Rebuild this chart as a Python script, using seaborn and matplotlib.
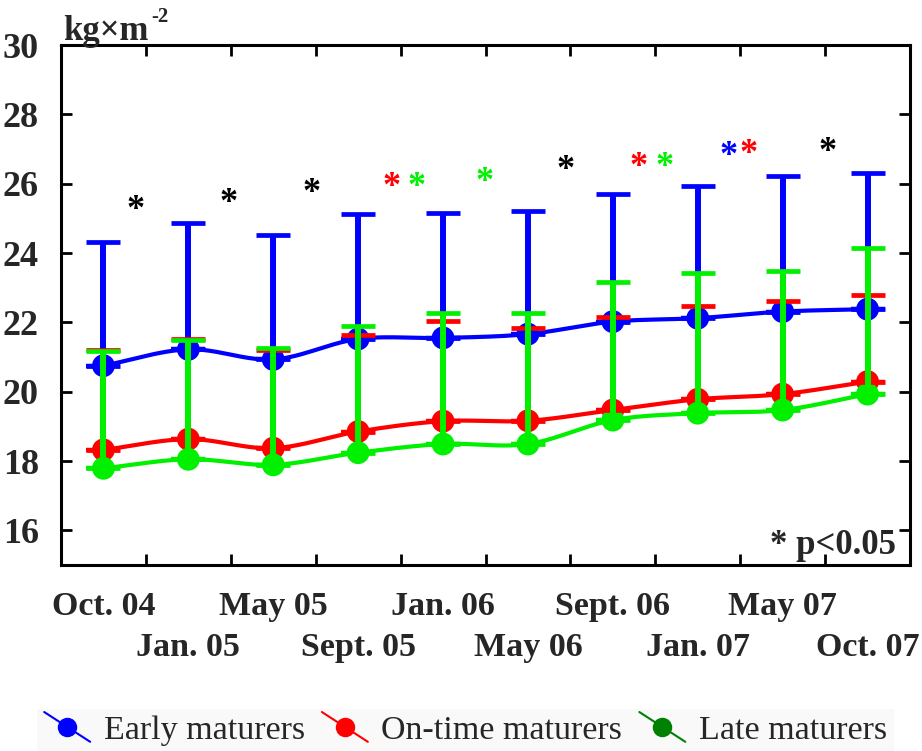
import numpy as np
import pandas as pd
import matplotlib
matplotlib.use("Agg")
import matplotlib.pyplot as plt
import seaborn as sns
from matplotlib.lines import Line2D
from matplotlib.legend_handler import HandlerBase

# ---------------- data ----------------
months = ["Oct. 04", "Jan. 05", "May 05", "Sept. 05", "Jan. 06",
          "May 06", "Sept. 06", "Jan. 07", "May 07", "Oct. 07"]
early_mean = [20.75, 21.22, 20.93, 21.52, 21.55, 21.66, 22.02, 22.12, 22.31, 22.38]
early_upper = [24.33, 24.86, 24.52, 25.13, 25.16, 25.22, 25.69, 25.93, 26.22, 26.30]
ontime_mean = [18.32, 18.63, 18.37, 18.85, 19.15, 19.16, 19.47, 19.78, 19.93, 20.29]
ontime_upper = [21.20, 21.52, 21.20, 21.64, 22.05, 21.83, 22.16, 22.47, 22.62, 22.79]
late_mean = [17.79, 18.05, 17.89, 18.24, 18.49, 18.49, 19.18, 19.38, 19.47, 19.93]
late_upper = [21.18, 21.49, 21.27, 21.89, 22.26, 22.28, 23.17, 23.41, 23.49, 24.14]
series_names = ["Early maturers", "On-time maturers", "Late maturers"]
y_ticks = [16, 18, 20, 22, 24, 26, 28, 30]
unit_label = "kg×m"
unit_sup = "-2"
sig_note = "* p<0.05"

# significance asterisks (between visits): x in category units, y in kg/m2
star_x = [0.38, 1.47, 2.45, 3.39, 3.69, 4.49, 5.44, 6.30, 6.61, 7.36, 7.60, 8.53]
star_y = [25.24, 25.44, 25.73, 25.90, 25.90, 26.02, 26.37, 26.48, 26.48, 26.77, 26.83, 26.91]
star_c = ["k", "k", "k", "r", "g", "g", "k", "r", "g", "b", "r", "k"]

# ---------------- style ----------------
sns.set_theme(style="white")
plt.rcParams["font.family"] = ["Liberation Serif", "DejaVu Serif"]
BLUE, RED, GREEN = "#0000ff", "#ff0000", "#00f000"
LEG_GREEN = "#008000"
cmap = {"k": "black", "r": RED, "g": GREEN, "b": BLUE}

fig = plt.figure(figsize=(9.22, 7.51), dpi=100)
ax = fig.add_axes([61 / 922, 1 - 565 / 751, 849 / 922, 520 / 751])

pos = np.arange(len(months))


def smooth(x, y, n=24):
    P = np.column_stack([x, y]).astype(float)
    P = np.vstack([2 * P[0] - P[1], P, 2 * P[-1] - P[-2]])
    out = []
    t = np.linspace(0, 1, n, endpoint=False)[:, None]
    for i in range(1, len(P) - 2):
        p0, p1, p2, p3 = P[i - 1], P[i], P[i + 1], P[i + 2]
        seg = 0.5 * ((2 * p1) + (-p0 + p2) * t + (2 * p0 - 5 * p1 + 4 * p2 - p3) * t ** 2
                     + (-p0 + 3 * p1 - 3 * p2 + p3) * t ** 3)
        out.append(seg)
    out.append(P[-2][None, :])
    return np.vstack(out)


groups = [(early_mean, early_upper, BLUE),
          (ontime_mean, ontime_upper, RED),
          (late_mean, late_upper, GREEN)]

for k, (m, up, c) in enumerate(groups):
    curve = smooth(pos, m)
    df = pd.DataFrame({"x": curve[:, 0], "y": curve[:, 1]})
    sns.lineplot(data=df, x="x", y="y", sort=False, estimator=None, color=c,
                 linewidth=3.0, ax=ax, zorder=2 + k)
    ax.plot(pos, m, linestyle="none", marker="_", markersize=24, mew=3.2,
            color=c, zorder=2 + k)
    sns.scatterplot(x=pos, y=m, s=270, color=c, edgecolor="none", ax=ax,
                    zorder=3 + k)

for k, (m, up, c) in enumerate(groups):
    m = np.asarray(m)
    up = np.asarray(up)
    ax.errorbar(pos, m, yerr=[np.zeros_like(m), up - m], fmt="none", ecolor=c,
                elinewidth=4.3, capsize=12, capthick=3.4, zorder=6 + k)

for x, y, c in zip(star_x, star_y, star_c):
    ax.text(x, y, "*", color=cmap[c], fontsize=26, fontweight="bold",
            ha="center", va="center", zorder=10)

ax.set_xlim(-0.5, len(months) - 0.5)
ax.set_ylim(15, 30)
ax.set_xlabel("")
ax.set_ylabel("")

ax.set_yticks(y_ticks)
ax.set_yticklabels([str(v) for v in y_ticks], fontsize=26, fontweight="bold")
ax.set_xticks(pos)
ax.set_xticklabels(months, fontsize=24.5, fontweight="bold")
ax.set_xticks(np.arange(len(months) + 1) - 0.5, minor=True)

ax.tick_params(axis="x", which="major", length=0, pad=19)
ax.tick_params(axis="x", which="minor", direction="in", length=8, width=2,
               top=True, bottom=True, color="black")
ax.tick_params(axis="y", which="major", direction="in", length=8, width=2,
               left=True, right=True, pad=16, color="black")
for i, tk in enumerate(ax.xaxis.get_major_ticks()):
    tk.set_pad(19 if i % 2 == 0 else 48)

for s in ax.spines.values():
    s.set_color("black")
    s.set_linewidth(2.2)

# unit label with superscript
ut = fig.text(63 / 922, 1 - 40 / 751, unit_label, fontsize=25, fontweight="bold",
              ha="left", va="baseline")
fig.text(151 / 922, 1 - 22 / 751, unit_sup, fontsize=15, fontweight="bold",
         ha="left", va="baseline")

# significance note
ax.text(0.983, 0.005, sig_note, transform=ax.transAxes, fontsize=25,
        fontweight="bold", ha="right", va="bottom")


class DiagHandler(HandlerBase):
    def create_artists(self, legend, orig_handle, xdescent, ydescent, width,
                       height, fontsize, trans):
        c = orig_handle.get_color()
        x0, x1 = -xdescent, width - xdescent
        y0, y1 = height * 1.15 - ydescent, -height * 0.1 - ydescent
        ln = Line2D([x0, x1], [y0, y1], color=c, linewidth=1.5, transform=trans)
        mk = Line2D([(x0 + x1) / 2], [(y0 + y1) / 2], marker="o", markersize=13,
                    color=c, linestyle="none", transform=trans)
        return [ln, mk]


handles = [Line2D([], [], color=BLUE), Line2D([], [], color=RED),
           Line2D([], [], color=LEG_GREEN)]
leg = fig.legend(handles, series_names, loc="center", ncol=3,
                 bbox_to_anchor=(0.505, 1 - 731 / 751), fontsize=24.5,
                 handler_map={Line2D: DiagHandler()}, handlelength=1.35,
                 handletextpad=0.4, columnspacing=0.5, frameon=True,
                 fancybox=False, borderpad=0.2)
leg.get_frame().set_facecolor("#f8f8f8")
leg.get_frame().set_edgecolor("none")
for t in leg.get_texts():
    t.set_fontweight("normal")

fig.savefig("out.png", dpi=100)
